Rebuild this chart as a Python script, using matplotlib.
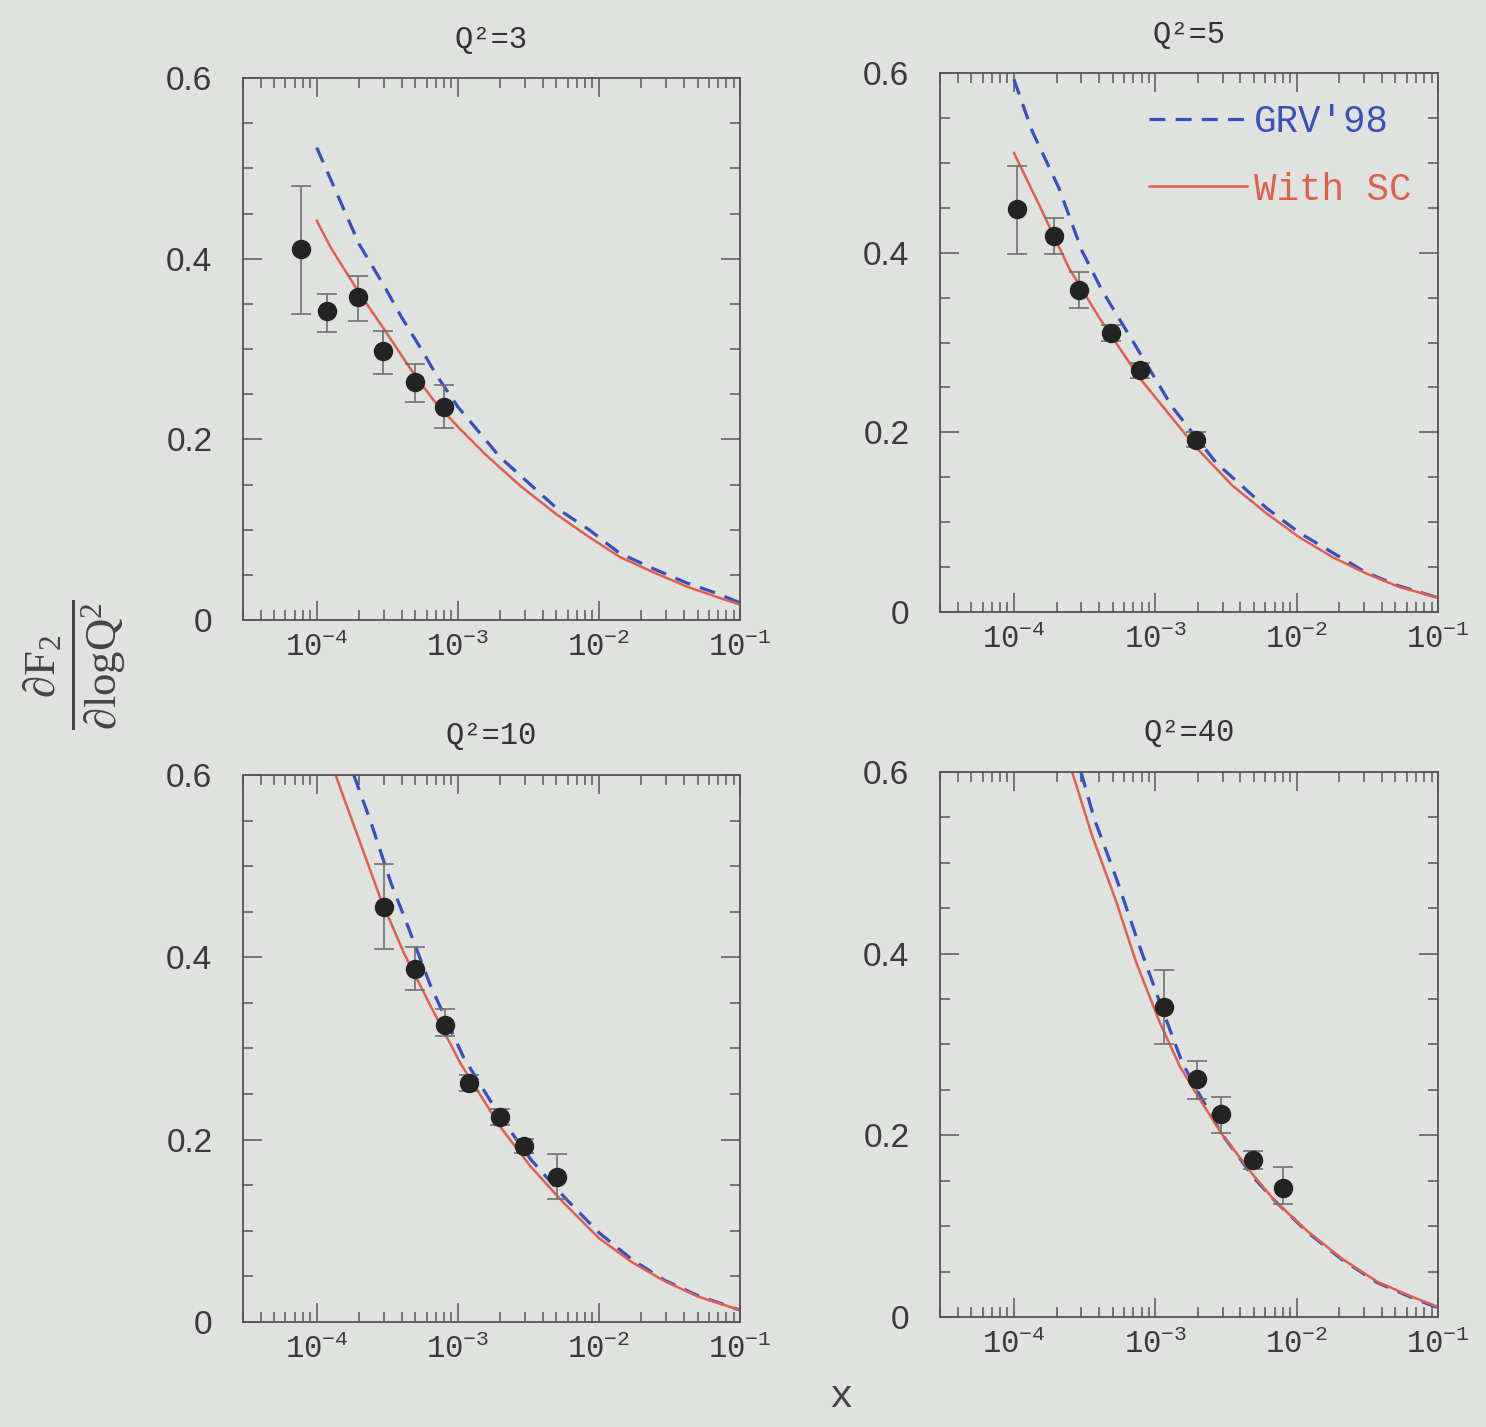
import numpy as np
import matplotlib
matplotlib.use("Agg")
import matplotlib.pyplot as plt
from matplotlib.ticker import LogLocator, LogFormatterMathtext, NullFormatter

plt.rcParams["mathtext.fontset"] = "custom"
plt.rcParams["mathtext.rm"] = "Liberation Serif"
plt.rcParams["mathtext.it"] = "Liberation Serif:italic"

bg = "#dfe2de"
c_grv = "#3a4fbf"
c_sc = "#e0604f"
c_pts = "#232323"

titles = ["Q²=3", "Q²=5", "Q²=10", "Q²=40"]
ytick_vals = [0, 0.2, 0.4, 0.6]
ytick_text = ["0", "0.2", "0.4", "0.6"]

# H1 data points: x, dF2/dlogQ2, error band low/high
x3 = [7.7e-5, 1.18e-4, 1.95e-4, 2.94e-4, 4.96e-4, 7.96e-4]
y3 = [0.411, 0.342, 0.358, 0.298, 0.263, 0.236]
lo3 = [0.339, 0.319, 0.331, 0.272, 0.241, 0.213]
hi3 = [0.481, 0.361, 0.381, 0.320, 0.283, 0.260]

x5 = [1.05e-4, 1.92e-4, 2.89e-4, 4.88e-4, 7.83e-4, 1.95e-3]
y5 = [0.449, 0.419, 0.359, 0.311, 0.269, 0.192]
lo5 = [0.399, 0.399, 0.339, 0.302, 0.261, 0.184]
hi5 = [0.497, 0.439, 0.379, 0.320, 0.277, 0.200]

x10 = [2.99e-4, 4.96e-4, 8.1e-4, 1.2e-3, 1.98e-3, 2.95e-3, 5.05e-3]
y10 = [0.455, 0.387, 0.326, 0.262, 0.225, 0.193, 0.159]
lo10 = [0.409, 0.364, 0.314, 0.253, 0.216, 0.185, 0.135]
hi10 = [0.502, 0.411, 0.343, 0.271, 0.234, 0.201, 0.184]

x40 = [1.16e-3, 1.98e-3, 2.9e-3, 4.94e-3, 7.95e-3]
y40 = [0.341, 0.262, 0.223, 0.173, 0.142]
lo40 = [0.300, 0.240, 0.203, 0.163, 0.124]
hi40 = [0.382, 0.282, 0.242, 0.183, 0.165]

# GRV'98 curves
grv_x3 = [1e-4, 2e-4, 3e-4, 4e-4, 5.5e-4, 7e-4, 1e-3, 2e-3, 5e-3, 8.5e-3, 1.4e-2, 2.5e-2, 4.2e-2, 7e-2, 1e-1]
grv_y3 = [0.523, 0.416, 0.370, 0.335, 0.300, 0.272, 0.236, 0.180, 0.124, 0.100, 0.074, 0.056, 0.041, 0.029, 0.019]
grv_x5 = [1e-4, 1.34e-4, 2.08e-4, 3.03e-4, 4.2e-4, 6.9e-4, 1.32e-3, 2.7e-3, 6.1e-3, 1.05e-2, 1.8e-2, 3.1e-2, 5.3e-2, 1e-1]
grv_y5 = [0.593, 0.536, 0.472, 0.402, 0.358, 0.302, 0.228, 0.166, 0.116, 0.088, 0.066, 0.044, 0.029, 0.016]
grv_x10 = [1.83e-4, 2.41e-4, 3.35e-4, 4.4e-4, 6.44e-4, 1.1e-3, 2e-3, 3.3e-3, 5.6e-3, 1e-2, 1.7e-2, 2.9e-2, 5e-2, 1e-1]
grv_y10 = [0.600, 0.549, 0.482, 0.435, 0.368, 0.290, 0.225, 0.178, 0.138, 0.098, 0.069, 0.046, 0.029, 0.013]
grv_x40 = [2.98e-4, 3.69e-4, 5.3e-4, 7.7e-4, 1.12e-3, 1.55e-3, 2e-3, 3e-3, 5e-3, 7e-3, 1.2e-2, 2.1e-2, 3.7e-2, 6.6e-2, 1e-1]
grv_y40 = [0.600, 0.549, 0.483, 0.409, 0.339, 0.280, 0.248, 0.200, 0.153, 0.128, 0.093, 0.063, 0.038, 0.021, 0.010]

# curves with saturation corrections
sc_x3 = [1e-4, 1.26e-4, 2e-4, 3e-4, 5e-4, 7e-4, 1e-3, 1.6e-3, 2.8e-3, 5e-3, 8.5e-3, 1.4e-2, 2.5e-2, 4.2e-2, 7e-2, 1e-1]
sc_y3 = [0.442, 0.412, 0.362, 0.322, 0.270, 0.240, 0.214, 0.182, 0.148, 0.117, 0.092, 0.070, 0.052, 0.037, 0.025, 0.017]
sc_x5 = [1e-4, 1.5e-4, 2.45e-4, 4e-4, 7.7e-4, 1.95e-3, 3.5e-3, 6.1e-3, 1.05e-2, 1.8e-2, 3.1e-2, 5.3e-2, 1e-1]
sc_y5 = [0.511, 0.454, 0.383, 0.328, 0.261, 0.183, 0.141, 0.110, 0.083, 0.061, 0.043, 0.028, 0.016]
sc_x10 = [1.36e-4, 1.83e-4, 2.84e-4, 4.14e-4, 6.44e-4, 1.05e-3, 2e-3, 3.3e-3, 5.6e-3, 1e-2, 1.7e-2, 2.9e-2, 5e-2, 1e-1]
sc_y10 = [0.600, 0.545, 0.464, 0.405, 0.346, 0.283, 0.214, 0.170, 0.131, 0.092, 0.066, 0.045, 0.028, 0.013]
sc_x40 = [2.58e-4, 3.57e-4, 5.3e-4, 7.3e-4, 1.07e-3, 1.49e-3, 2e-3, 3e-3, 5e-3, 7e-3, 1.2e-2, 2.1e-2, 3.7e-2, 6.6e-2, 1e-1]
sc_y40 = [0.600, 0.530, 0.457, 0.391, 0.325, 0.276, 0.243, 0.200, 0.155, 0.128, 0.094, 0.064, 0.039, 0.022, 0.011]

panels = [
    (x3, y3, lo3, hi3, grv_x3, grv_y3, sc_x3, sc_y3),
    (x5, y5, lo5, hi5, grv_x5, grv_y5, sc_x5, sc_y5),
    (x10, y10, lo10, hi10, grv_x10, grv_y10, sc_x10, sc_y10),
    (x40, y40, lo40, hi40, grv_x40, grv_y40, sc_x40, sc_y40),
]
boxes = [
    [0.1635, 0.5655, 0.3345, 0.3798],
    [0.6326, 0.5711, 0.3351, 0.3777],
    [0.1635, 0.0736, 0.3345, 0.3833],
    [0.6326, 0.0771, 0.3351, 0.3819],
]

fig = plt.figure(figsize=(14.86, 14.27), dpi=100, facecolor=bg)

for i, (px, py, plo, phi, gx, gy, sx, sy) in enumerate(panels):
    ax = fig.add_axes(boxes[i], facecolor=bg)
    ax.set_xscale("log")

    ax.plot(gx, gy, color=c_grv, lw=2.3, linestyle=(0, (5, 3.2)), label="GRV'98", zorder=2)
    ax.plot(sx, sy, color=c_sc, lw=1.8, label="With SC", zorder=2)

    py = np.array(py)
    yerr = [py - np.array(plo), np.array(phi) - py]
    ax.errorbar(px, py, yerr=yerr, fmt="o", ms=13, color=c_pts, ecolor="#707070",
                elinewidth=1.2, capsize=7, capthick=1.2, zorder=3)

    ax.set_xlim(3e-5, 0.1)
    ax.set_ylim(0, 0.6)

    ax.xaxis.set_major_locator(LogLocator(base=10, numticks=10))
    ax.xaxis.set_minor_locator(LogLocator(base=10, subs=np.arange(2, 10), numticks=10))
    ax.xaxis.set_major_formatter(LogFormatterMathtext())
    ax.xaxis.set_minor_formatter(NullFormatter())
    ax.set_yticks(ytick_vals)
    ax.set_yticks(np.arange(0, 0.601, 0.05), minor=True)
    ax.set_yticklabels(ytick_text, fontfamily="Liberation Sans", fontsize=24, color="#3a3a3a")
    for lab in ax.get_xticklabels():
        lab.set_fontfamily("Liberation Mono")
        lab.set_fontsize(22)
        lab.set_color("#3a3a3a")

    ax.tick_params(which="both", direction="in", top=True, right=True, color="#555555", width=1.1)
    ax.tick_params(which="major", length=14)
    ax.tick_params(which="minor", length=7)
    ax.tick_params(axis="y", which="major", pad=22)
    ax.tick_params(axis="x", which="major", pad=9)
    for sp in ax.spines.values():
        sp.set_color("#555555")
        sp.set_linewidth(1.3)

    ax.set_title(titles[i], fontfamily="Liberation Mono", fontsize=22, color="#333333", pad=22)

    if i == 1:
        leg = ax.legend(loc="upper right", bbox_to_anchor=(0.985, 0.978), frameon=False,
                        prop={"family": "Liberation Mono", "size": 27},
                        handlelength=2.6, handletextpad=0.2, labelspacing=0.85, borderpad=0)
        for txt, col in zip(leg.get_texts(), [c_grv, c_sc]):
            txt.set_color(col)

fig.text(0.05, 0.534, r"$\frac{\partial \mathrm{F}_2}{\partial \mathrm{logQ}^2}$",
         rotation=90, ha="center", va="center", fontsize=46, color="#444444")
fig.text(0.566, 0.021, "x", fontfamily="Liberation Mono", fontsize=28,
         ha="center", va="center", color="#444444")

fig.savefig("out.png", dpi=100, facecolor=bg)
